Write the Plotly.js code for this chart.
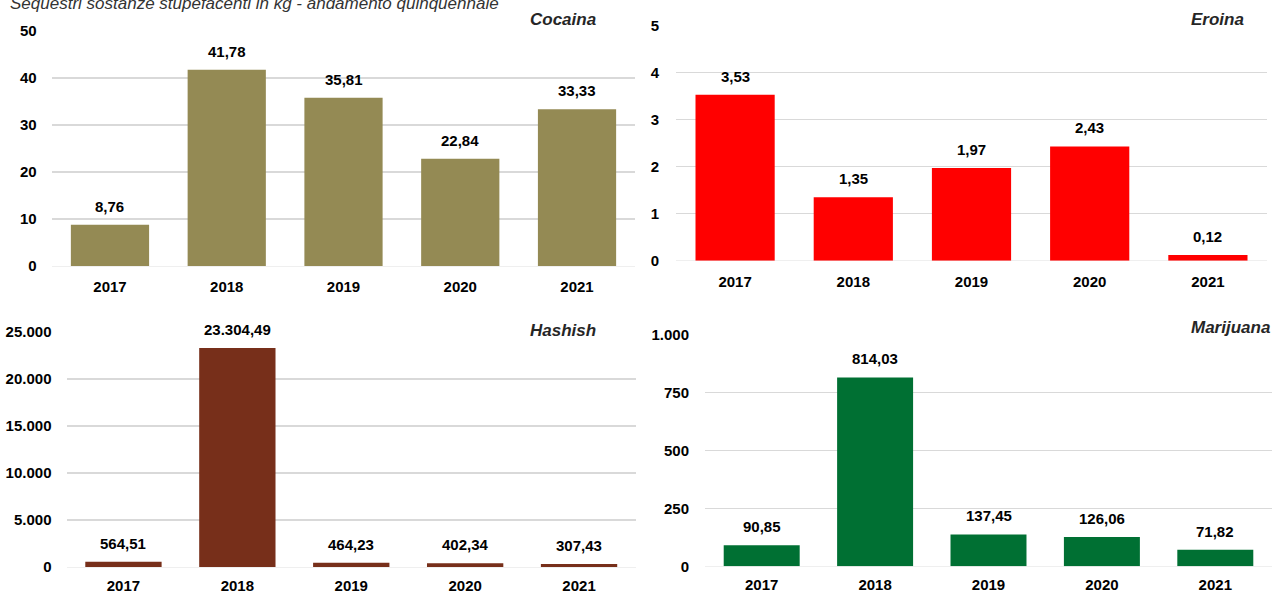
<!DOCTYPE html>
<html>
<head>
<meta charset="utf-8">
<script src="https://cdn.plot.ly/plotly-3.0.1.min.js"></script>
<style>
html,body{margin:0;padding:0;background:#fff;}
#chart{width:1272px;height:594px;}
</style>
</head>
<body>
<div id="chart"></div>
<script>
// ---- data ----
const years = ['2017', '2018', '2019', '2020', '2021'];
const cocaina = [8.76, 41.78, 35.81, 22.84, 33.33];
const eroina = [3.53, 1.35, 1.97, 2.43, 0.12];
const hashish = [564.51, 23304.49, 464.23, 402.34, 307.43];
const marijuana = [90.85, 814.03, 137.45, 126.06, 71.82];
const panelNames = ['Cocaina', 'Eroina', 'Hashish', 'Marijuana'];
const mainTitle = 'Sequestri sostanze stupefacenti in kg - andamento quinquennale';

// ---- style ----
const NARROW = "'Liberation Sans Narrow', 'Arial Narrow', 'Liberation Sans', Arial, sans-serif";
const WIDE = "'Liberation Sans', Arial, sans-serif";
const colors = ['#948A54', '#FF0000', '#772F1A', '#007033'];
const W = 1272, H = 594;
function px(x) { return x / W; }
function py(y) { return 1 - y / H; }

function fmtIt(v) {
  const s = v.toFixed(2);
  let [i, d] = s.split('.');
  i = i.replace(/\B(?=(\d{3})+(?!\d))/g, '.');
  return i + ',' + d;
}

const series = [cocaina, eroina, hashish, marijuana];
const axes = [['x', 'y'], ['x2', 'y2'], ['x3', 'y3'], ['x4', 'y4']];

const data = series.map((vals, k) => ({
  type: 'bar',
  x: years,
  y: vals,
  xaxis: axes[k][0],
  yaxis: axes[k][1],
  marker: { color: colors[k] },
  hoverinfo: 'x+y',
  showlegend: false
}));

const tickFont = { family: NARROW, size: 15, weight: 'bold', color: '#000' };

function xAx(domain, anchor, standoff) {
  return {
    domain: domain, anchor: anchor, type: 'category',
    range: [-0.5, years.length - 0.5], autorange: false,
    showgrid: false, showline: false, zeroline: false,
    ticks: '', tickfont: tickFont, ticklabelstandoff: standoff,
    fixedrange: true
  };
}
function yAx(domain, anchor, range, dtick, standoff) {
  return {
    domain: domain, anchor: anchor, range: range, autorange: false, dtick: dtick,
    tickformat: ',d', separatethousands: true,
    showgrid: true, gridcolor: '#D9D9D9', gridwidth: 1.3,
    zeroline: true, zerolinecolor: '#EFEFEF', zerolinewidth: 1,
    showline: false, ticks: '', tickfont: tickFont,
    ticklabelstandoff: standoff, fixedrange: true
  };
}

const annotations = [];
series.forEach((vals, k) => {
  vals.forEach((v, i) => {
    annotations.push({
      x: i, y: v, xref: axes[k][0], yref: axes[k][1],
      text: fmtIt(v), showarrow: false, yanchor: 'bottom', yshift: 8,
      font: { family: NARROW, size: 15, weight: 'bold', color: '#000' }
    });
  });
});

// panel titles
const titlePos = [[598, 19], [1246, 19], [598, 330], [1272, 327]];
panelNames.forEach((t, k) => {
  annotations.push({
    x: px(titlePos[k][0]), y: py(titlePos[k][1]), xref: 'paper', yref: 'paper',
    xanchor: 'right', yanchor: 'middle', showarrow: false,
    text: '<b><i>' + t + '</i></b>',
    font: { family: WIDE, size: 17, color: '#262626' }
  });
});
annotations.push({
  x: px(8), y: py(3), xref: 'paper', yref: 'paper',
  xanchor: 'left', yanchor: 'middle', showarrow: false,
  text: '<i>' + mainTitle + '</i>',
  font: { family: WIDE, size: 17, color: '#333333' }
});

const layout = {
  width: W, height: H,
  margin: { l: 0, r: 0, t: 0, b: 0 },
  paper_bgcolor: '#fff', plot_bgcolor: '#fff',
  separators: ',.',
  bargap: 0.33,
  xaxis: xAx([px(51.6), px(635.4)], 'y', 10),
  yaxis: yAx([py(266), py(31)], 'x', [0, 50], 10, 14),
  xaxis2: xAx([px(676), px(1267)], 'y2', 10),
  yaxis2: yAx([py(260.7), py(25.7)], 'x2', [0, 5], 1, 16),
  xaxis3: xAx([px(66.5), px(636)], 'y3', 8),
  yaxis3: yAx([py(567), py(332)], 'x3', [0, 25000], 5000, 14),
  xaxis4: xAx([px(705), px(1272)], 'y4', 8),
  yaxis4: yAx([py(566.3), py(334.3)], 'x4', [0, 1000], 250, 15),
  annotations: annotations
};

Plotly.newPlot('chart', data, layout, { displayModeBar: false, staticPlot: true });
</script>
</body>
</html>
